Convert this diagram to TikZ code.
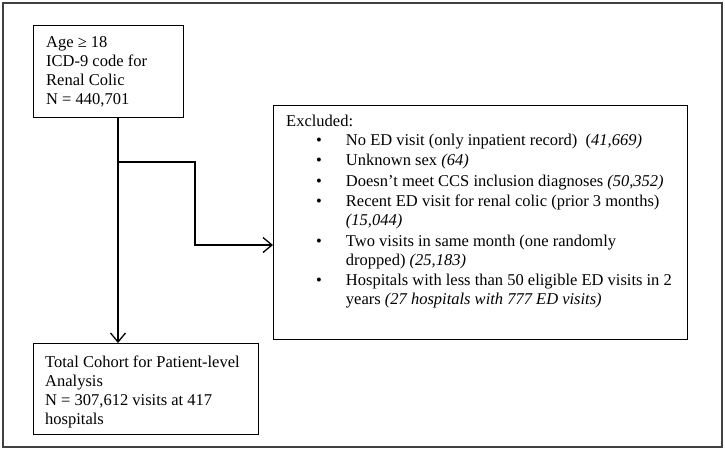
\documentclass[tikz,border=0pt]{standalone}
\usepackage{fontspec}
\setmainfont{Liberation Serif}
\usetikzlibrary{arrows.meta}
\tikzset{
  flowbox/.style={draw, line width=1.3pt, inner sep=0pt, anchor=north west},
  boxtext/.style={anchor=north west, align=left, inner sep=0pt,
    font=\fontsize{16.5}{19}\selectfont},
  flowline/.style={line width=1.3pt},
  flowarrow/.style={flowline, -{Straight Barb[length=9pt,width=15pt,line width=1.3pt]}},
}
\begin{document}
\begin{tikzpicture}[x=1pt, y=-1pt]
  \useasboundingbox (0,0) rectangle (725,451);
  \draw[line width=1.4pt, black!75] (3,3) rectangle (722,447);

  % boxes
  \node[flowbox, minimum width=150pt, minimum height=92pt] (start) at (33,25) {};
  \node[boxtext] (startText) at ([shift={(13pt,-11pt)}]start.north west)
    {Age ≥ 18\\ICD-9 code for\\Renal Colic\\N = 440,701};

  \node[flowbox, minimum width=414pt, minimum height=234pt] (excl) at (273,105) {};
  \node[boxtext] (exclText) at ([shift={(13pt,-10pt)}]excl.north west)
    {Excluded:\\[4pt]
     \begin{tabular}{@{\hspace{30pt}}l@{\hspace{24pt}}l@{}}
     \textbullet & No ED visit (only inpatient record)\ \ (\textit{41,669)}\\[1.5pt]
     \textbullet & Unknown sex \textit{(64)}\\[1.5pt]
     \textbullet & Doesn’t meet CCS inclusion diagnoses \textit{(50,352)}\\[1.5pt]
     \textbullet & Recent ED visit for renal colic (prior 3 months)\\
                 & \textit{(15,044)}\\[1.5pt]
     \textbullet & Two visits in same month (one randomly\\
                 & dropped) \textit{(25,183)}\\[1.5pt]
     \textbullet & Hospitals with less than 50 eligible ED visits in 2\\
                 & years \textit{(27 hospitals with 777 ED visits)}
     \end{tabular}};

  \node[flowbox, minimum width=225pt, minimum height=91pt] (cohort) at (33,343) {};
  \node[boxtext] (cohortText) at ([shift={(12pt,-13pt)}]cohort.north west)
    {Total Cohort for Patient-level\\Analysis\\N = 307,612 visits at 417\\hospitals};

  % connectors
  \coordinate (split) at (118,162);
  \coordinate (bend) at (195,245);
  \draw[flowarrow] (start.south -| split) -- (cohort.north -| split);
  \draw[flowarrow] (split) -- (split -| bend) -- (bend) -- (bend -| excl.west);
\end{tikzpicture}
\end{document}
